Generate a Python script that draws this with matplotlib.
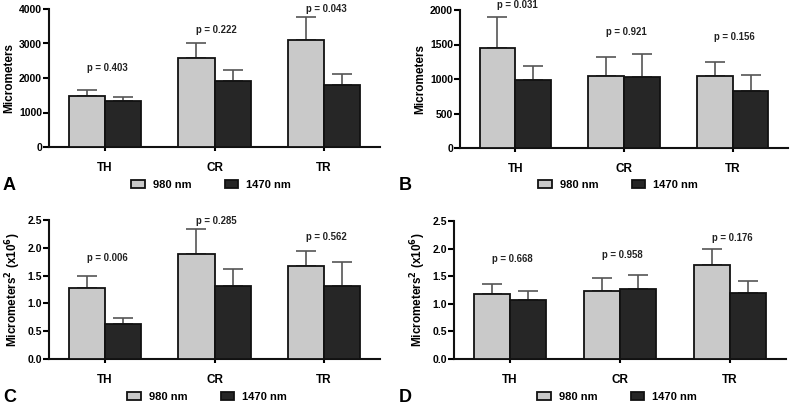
import numpy as np
import matplotlib.pyplot as plt
from matplotlib.ticker import FormatStrFormatter

plt.rcParams['font.family'] = ['Liberation Sans', 'DejaVu Sans']
plt.rcParams['font.weight'] = 'bold'

regions = ['TH', 'CR', 'TR']
groups = ['980 nm', '1470 nm']

# panel A - micrometers
a_980 = [1490, 2570, 3115]
a_980_err = [170, 440, 660]
a_1470 = [1320, 1920, 1805]
a_1470_err = [130, 310, 300]
a_p = ['p = 0.403', 'p = 0.222', 'p = 0.043']
a_py = [2300, 3390, 4010]

# panel B - micrometers
b_980 = [1453, 1046, 1046]
b_980_err = [440, 276, 203]
b_1470 = [988, 1031, 833]
b_1470_err = [194, 325, 227]
b_p = ['p = 0.031', 'p = 0.921', 'p = 0.156']
b_py = [2075, 1685, 1603]

# panel C - micrometers^2 (x10^6)
c_980 = [1.27, 1.88, 1.665]
c_980_err = [0.22, 0.455, 0.27]
c_1470 = [0.635, 1.32, 1.305]
c_1470_err = [0.10, 0.295, 0.44]
c_p = ['p = 0.006', 'p = 0.285', 'p = 0.562']
c_py = [1.81, 2.49, 2.19]

# panel D - micrometers^2 (x10^6)
d_980 = [1.18, 1.24, 1.70]
d_980_err = [0.17, 0.22, 0.30]
d_1470 = [1.07, 1.26, 1.20]
d_1470_err = [0.17, 0.265, 0.22]
d_p = ['p = 0.668', 'p = 0.958', 'p = 0.176']
d_py = [1.82, 1.89, 2.19]

W, H = 792, 407
fig = plt.figure(figsize=(W / 100, H / 100), dpi=100)


def box(l, r, t, b):
    return [l / W, 1 - b / H, (r - l) / W, (b - t) / H]


panels = [
    ('A', box(49, 380, 9, 147), a_980, a_980_err, a_1470, a_1470_err, a_p, a_py,
     4000, 1000, '%d', 'Micrometers', (211, 185), (3, 186)),
    ('B', box(460, 788, 10, 148), b_980, b_980_err, b_1470, b_1470_err, b_p, b_py,
     2000, 500, '%d', 'Micrometers', (618, 185), (399, 186)),
    ('C', box(49, 380, 220, 359), c_980, c_980_err, c_1470, c_1470_err, c_p, c_py,
     2.5, 0.5, '%.1f', 'Micrometers$^{\\mathbf{2}}$ (x10$^{\\mathbf{6}}$)', (207, 397), (3, 397)),
    ('D', box(454, 786, 221, 359), d_980, d_980_err, d_1470, d_1470_err, d_p, d_py,
     2.5, 0.5, '%.1f', 'Micrometers$^{\\mathbf{2}}$ (x10$^{\\mathbf{6}}$)', (617, 397), (399, 397)),
]

x = np.arange(len(regions))
w = 0.33
for (letter, pos, v1, e1, v2, e2, ptxt, py, ymax, step, fmt, ylab,
     legpos, letpos) in panels:
    ax = fig.add_axes(pos)
    b1 = ax.bar(x - w / 2, v1, w, color='#c9c9c9', edgecolor='#111111',
                linewidth=1.3, zorder=3)
    b2 = ax.bar(x + w / 2, v2, w, color='#262626', edgecolor='#111111',
                linewidth=1.3, zorder=3)
    ax.errorbar(x - w / 2, v1, yerr=[np.zeros(3), e1], fmt='none',
                ecolor='#555555', elinewidth=1.2, capsize=7, capthick=1.2, zorder=2)
    ax.errorbar(x + w / 2, v2, yerr=[np.zeros(3), e2], fmt='none',
                ecolor='#555555', elinewidth=1.2, capsize=7, capthick=1.2, zorder=2)
    for xi, t, yy in zip(x, ptxt, py):
        ax.text(xi + 0.02, yy, t, ha='center', va='center', fontsize=6.9,
                fontweight='bold', color='#222222')
    ax.set_xlim(-0.51, 2.51)
    ax.set_ylim(0, ymax)
    ax.set_yticks(np.arange(0, ymax + step / 2, step))
    ax.yaxis.set_major_formatter(FormatStrFormatter(fmt))
    ax.set_xticks(x)
    ax.set_xticklabels(regions)
    for s in ['top', 'right']:
        ax.spines[s].set_visible(False)
    for s in ['left', 'bottom']:
        ax.spines[s].set_linewidth(1.5)
        ax.spines[s].set_color('#111111')
    ax.tick_params(axis='y', length=4, width=1.5, labelsize=7.5, pad=1)
    ax.tick_params(axis='x', length=3, width=1.5, labelsize=8.5, pad=8)
    ax.set_ylabel(ylab, fontsize=8.5, fontweight='bold', labelpad=3)
    ax.legend([b1, b2], groups, loc='center',
              bbox_to_anchor=(legpos[0] / W, 1 - legpos[1] / H),
              bbox_transform=fig.transFigure, ncol=2, frameon=False,
              fontsize=8, handlelength=1.2, handleheight=0.7,
              handletextpad=0.7, columnspacing=3.0)
    fig.text(letpos[0] / W, 1 - letpos[1] / H, letter, fontsize=13,
             fontweight='bold', ha='left', va='center')

fig.savefig('out.png', dpi=100)
